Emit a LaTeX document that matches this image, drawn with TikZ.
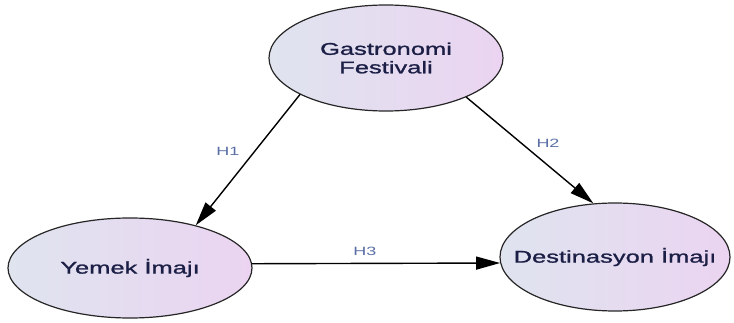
\documentclass[tikz,border=0pt]{standalone}
\usepackage{fontspec}
\setmainfont[FakeStretch=1.5, FakeBold=1.2]{Liberation Sans}
\newfontfamily\hypfont[FakeStretch=1.5]{Liberation Sans}
\usetikzlibrary{arrows.meta,shapes.geometric}
\definecolor{shadeL}{HTML}{DFE4EF}
\definecolor{shadeR}{HTML}{EBD4F1}
\definecolor{ink}{HTML}{1B1E45}
\definecolor{hlab}{HTML}{5B6FA6}

\begin{document}
\begin{tikzpicture}[x=1pt, y=-1pt, line cap=round, line join=round, >={Triangle[length=24pt,width=13pt]},
  construct/.style={ellipse, draw=black!85, line width=1.2pt, left color=shadeL, right color=shadeR,
    inner sep=0pt, text=ink, font=\fontsize{17}{18.5}\selectfont, align=center},
  hyp/.style={text=hlab, font=\hypfont\fontsize{12}{13}\selectfont}]

\useasboundingbox (0,0) rectangle (734,323);

% constructs
\node[construct, minimum width=234pt, minimum height=106pt] (gas) at (386,58) {Gastronomi\\Festivali};
\node[construct, minimum width=244pt, minimum height=100pt] (yem) at (130,268) {Yemek İmajı};
\node[construct, minimum width=230pt, minimum height=108pt] (dest) at (615,257) {\makebox[0pt]{Destinasyon İmajı}};

% hypotheses
\draw[->, line width=1.4pt] (gas.203) -- (yem.33);
\draw[->, line width=1.4pt] (gas.334) -- (dest.112);
\draw[->, line width=1.4pt] (yem.2) -- (dest.183);

\node[hyp] (h1) at (228,151) {H1};
\node[hyp] (h2) at (548,143) {H2};
\node[hyp] (h3) at (365,251) {H3};

\end{tikzpicture}
\end{document}
